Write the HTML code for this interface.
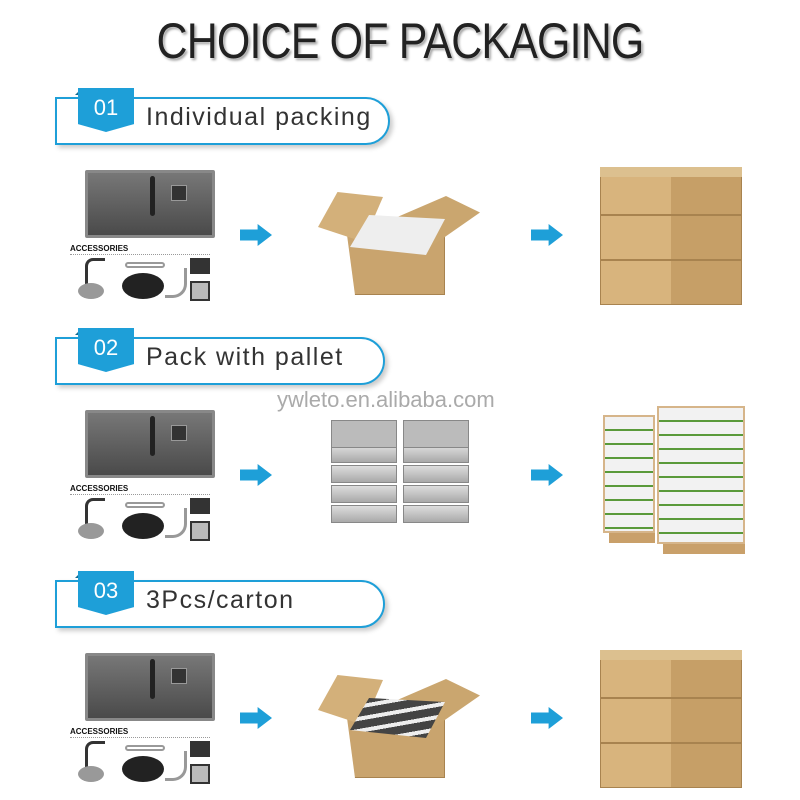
<!DOCTYPE html>
<html><head><meta charset="utf-8"><style>
*{margin:0;padding:0;box-sizing:border-box}
body{width:800px;height:800px;background:#fff;position:relative;overflow:hidden;font-family:"Liberation Sans",sans-serif}
.a{position:absolute}
.title{left:0;width:800px;top:12px;text-align:center;font-size:50px;color:#222;letter-spacing:-1px;text-shadow:0 0 2px #fff,2px 2px 3px #999;transform:scaleX(.86)}
.ban{border:2px solid #1e9fd8;border-radius:0 26px 26px 0;background:#fff;box-shadow:3px 3px 5px #ccc}
.tab{background:#1e9fd8;color:#fff;font-size:22px;text-align:center;line-height:40px;clip-path:polygon(0 0,100% 0,100% 82%,50% 100%,0 82%)}
.btxt{font-size:25px;color:#333;letter-spacing:1.5px}
.sink{background:linear-gradient(#777,#4a4a4a);border:3px solid #888;border-radius:2px}
.arrow{width:32px;height:22px;background:#1e9fd8;clip-path:polygon(0 25%,55% 25%,55% 0,100% 50%,55% 100%,55% 75%,0 75%)}
.carton{background:#c9a46e;border:1px solid #a8834f}
</style></head><body>
<div class="a title">CHOICE OF PACKAGING</div>
<div class="a" style="left:277px;top:387px;font-size:22px;color:#aaa">ywleto.en.alibaba.com</div>
<div id="rows"></div>
<script>
var rows=[{y:0,t:"01",l:"Individual packing",w:335},{y:240,t:"02",l:"Pack with pallet",w:330},{y:483,t:"03",l:"3Pcs/carton",w:330}];
var h="";
rows.forEach(function(r,i){var y=r.y;
h+='<div class="a ban" style="left:55px;top:'+(97+y)+'px;width:'+r.w+'px;height:48px"></div>';
h+='<div class="a" style="left:75px;top:'+(88+y)+'px;width:0;height:0;border-left:7px solid transparent;border-bottom:7px solid #126a90"></div>';
h+='<div class="a tab" style="left:78px;top:'+(88+y)+'px;width:56px;height:44px">'+r.t+'</div>';
h+='<div class="a btxt" style="left:146px;top:'+(103+y)+'px">'+r.l+'</div>';
h+='<div class="a sink" style="left:85px;top:'+(170+y)+'px;width:130px;height:68px"></div>';
h+='<div class="a" style="left:150px;top:'+(176+y)+'px;width:5px;height:40px;background:#222;border-radius:3px"></div>';
h+='<div class="a" style="left:171px;top:'+(185+y)+'px;width:16px;height:16px;background:#333;border:1px solid #999"></div>';
h+='<div class="a" style="left:70px;top:'+(244+y)+'px;font-size:8px;font-weight:bold;color:#111">ACCESSORIES</div>';
h+='<div class="a" style="left:70px;top:'+(254+y)+'px;width:140px;border-top:1px dotted #999"></div>';
h+='<div class="a" style="left:85px;top:'+(258+y)+'px;width:20px;height:30px;border:3px solid #333;border-right:none;border-bottom:none;border-radius:8px 0 0 0"></div>';
h+='<div class="a" style="left:78px;top:'+(283+y)+'px;width:26px;height:16px;background:#999;border-radius:50%"></div>';
h+='<div class="a" style="left:122px;top:'+(273+y)+'px;width:42px;height:26px;background:#222;border-radius:50%"></div>';
h+='<div class="a" style="left:125px;top:'+(262+y)+'px;width:40px;height:6px;border:2px solid #999;border-radius:4px"></div>';
h+='<div class="a" style="left:165px;top:'+(268+y)+'px;width:22px;height:30px;border:3px solid #999;border-left:none;border-top:none;border-radius:0 0 14px 0"></div>';
h+='<div class="a" style="left:190px;top:'+(258+y)+'px;width:20px;height:16px;background:#333"></div>';
h+='<div class="a" style="left:190px;top:'+(281+y)+'px;width:20px;height:20px;background:#bbb;border:2px solid #333"></div>';
h+='<div class="a arrow" style="left:240px;top:'+(224+y)+'px"></div>';
h+='<div class="a arrow" style="left:531px;top:'+(224+y)+'px"></div>';
if(i!=1){
 h+='<div class="a carton" style="left:345px;top:'+(220+y)+'px;width:100px;height:75px;clip-path:polygon(0 0,100% 0,100% 100%,10% 100%)"></div>';
 h+='<div class="a" style="left:318px;top:'+(192+y)+'px;width:65px;height:50px;background:#d3b07a;clip-path:polygon(30% 0,100% 10%,70% 100%,0 70%)"></div>';
 h+='<div class="a" style="left:395px;top:'+(196+y)+'px;width:85px;height:55px;background:#caa66f;clip-path:polygon(0 40%,60% 0,100% 30%,35% 100%)"></div>';
 h+='<div class="a" style="left:350px;top:'+(215+y)+'px;width:95px;height:40px;background:'+(i==0?'#eee':'repeating-linear-gradient(170deg,#444 0 8px,#eee 8px 12px)')+';clip-path:polygon(20% 0,100% 10%,80% 100%,0 80%)"></div>';
 for(var k=0;k<3;k++){h+='<div class="a carton" style="left:600px;top:'+(170+y+k*45)+'px;width:142px;height:45px;background:linear-gradient(90deg,#d8b47d 0 50%,#c69f67 50% 100%)"></div>';}
 h+='<div class="a" style="left:600px;top:'+(167+y)+'px;width:142px;height:10px;background:#dcc08f"></div>';
}else{
 for(var s=0;s<2;s++)for(var k=0;k<5;k++){h+='<div class="a" style="left:'+(331+s*72)+'px;top:'+(425+k*20)+'px;width:66px;height:18px;background:linear-gradient(#ddd,#a9a9a9);border:1px solid #888"></div>';}
 h+='<div class="a" style="left:331px;top:420px;width:66px;height:28px;background:#bbb;border:1px solid #888"></div><div class="a" style="left:403px;top:420px;width:66px;height:28px;background:#bbb;border:1px solid #888"></div>';
 [[603,415,52,118],[657,406,88,138]].forEach(function(p){
  h+='<div class="a" style="left:'+p[0]+'px;top:'+p[1]+'px;width:'+p[2]+'px;height:'+p[3]+'px;background:repeating-linear-gradient(#f2f2f2 0 12px,#5a9a3a 12px 14px);border:2px solid #d6b58a"></div>';
  h+='<div class="a" style="left:'+(p[0]+6)+'px;top:'+(p[1]+p[3])+'px;width:'+(p[2]-6)+'px;height:10px;background:#c9a06a"></div>';
 });
}
});
document.getElementById("rows").innerHTML=h;
</script>
</body></html>
